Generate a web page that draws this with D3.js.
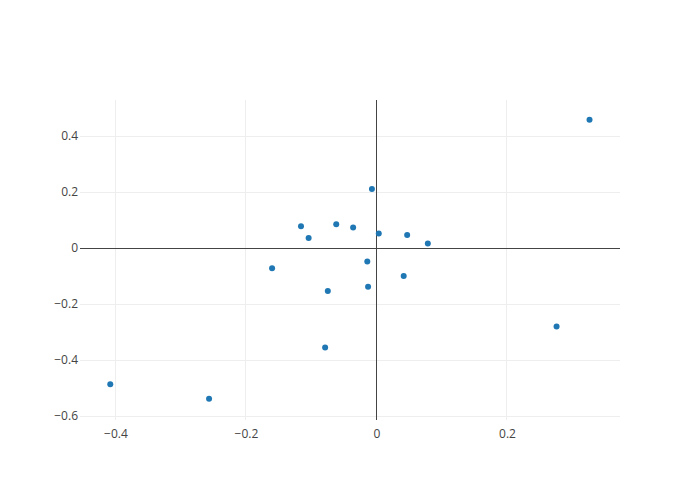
<!DOCTYPE html>
<html>
<head>
<meta charset="utf-8">
<script src="https://cdn.jsdelivr.net/npm/d3@7"></script>
<style>
  body { margin: 0; background: #fff; }
  text { font-family: "Open Sans", sans-serif; }
</style>
</head>
<body>
<div id="chart-area"></div>
<script>
// point values
const xValues = [0.3265, -0.007, -0.1157, -0.0617, -0.0358, -0.104, 0.0035, 0.047, 0.0787,
  -0.160, -0.0141, 0.0417, -0.0746, -0.0129, 0.276, -0.0787, -0.408, -0.2566];
const yValues = [0.458, 0.211, 0.078, 0.085, 0.073, 0.0355, 0.052, 0.047, 0.0166,
  -0.072, -0.0485, -0.0994, -0.153, -0.1385, -0.2805, -0.355, -0.486, -0.538];
const xTicks = [-0.4, -0.2, 0, 0.2];
const yTicks = [-0.6, -0.4, -0.2, 0, 0.2, 0.4];

const data = xValues.map((x, i) => ({ x: x, y: yValues[i] }));

const width = 700, height = 500;
const margin = { top: 100, right: 80, bottom: 80, left: 80 };

const svg = d3.select("#chart-area").append("svg")
  .attr("width", width)
  .attr("height", height);

const x = d3.scaleLinear()
  .domain([-0.4544, 0.3732])
  .range([margin.left, width - margin.right]);

const y = d3.scaleLinear()
  .domain([-0.614, 0.5286])
  .range([height - margin.bottom, margin.top]);

const fmt = d => d === 0 ? "0" : d3.format(".1f")(d).replace("-", "\u2212");
// snap lines to pixel centres
const px = v => Math.floor(v) + 0.5;

// grid lines
svg.append("g")
  .selectAll("line")
  .data(xTicks.filter(d => d !== 0))
  .enter().append("line")
  .attr("x1", d => px(x(d))).attr("x2", d => px(x(d)))
  .attr("y1", margin.top).attr("y2", height - margin.bottom)
  .attr("stroke", "#eee").attr("stroke-width", 1);

svg.append("g")
  .selectAll("line")
  .data(yTicks.filter(d => d !== 0))
  .enter().append("line")
  .attr("x1", margin.left).attr("x2", width - margin.right)
  .attr("y1", d => px(y(d))).attr("y2", d => px(y(d)))
  .attr("stroke", "#eee").attr("stroke-width", 1);

// zero lines
svg.append("line")
  .attr("x1", px(x(0))).attr("x2", px(x(0)))
  .attr("y1", margin.top).attr("y2", height - margin.bottom)
  .attr("stroke", "#444").attr("stroke-width", 1);
svg.append("line")
  .attr("x1", margin.left).attr("x2", width - margin.right)
  .attr("y1", px(y(0))).attr("y2", px(y(0)))
  .attr("stroke", "#444").attr("stroke-width", 1);

// axes (labels only)
const xAxis = svg.append("g")
  .attr("transform", "translate(0," + (height - margin.bottom) + ")")
  .call(d3.axisBottom(x).tickValues(xTicks).tickFormat(fmt).tickSize(0).tickPadding(9));
const yAxis = svg.append("g")
  .attr("transform", "translate(" + margin.left + ",0)")
  .call(d3.axisLeft(y).tickValues(yTicks).tickFormat(fmt).tickSize(0).tickPadding(2));

[xAxis, yAxis].forEach(a => {
  a.select(".domain").remove();
  a.selectAll("text")
    .attr("fill", "#444")
    .style("font-size", "12px")
    .style("font-family", "'Open Sans', sans-serif");
});

// points
svg.append("g")
  .selectAll("circle")
  .data(data)
  .enter().append("circle")
  .attr("cx", d => x(d.x))
  .attr("cy", d => y(d.y))
  .attr("r", 3)
  .attr("fill", "#1f77b4");
</script>
</body>
</html>
